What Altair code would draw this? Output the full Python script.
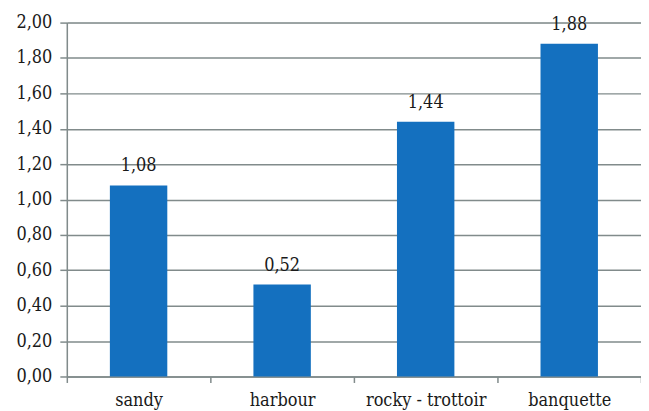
import altair as alt
import pandas as pd

categories = ["sandy", "harbour", "rocky - trottoir", "banquette"]
values = [1.08, 0.52, 1.44, 1.88]
y_ticks = [0.0, 0.2, 0.4, 0.6, 0.8, 1.0, 1.2, 1.4, 1.6, 1.8, 2.0]

df = pd.DataFrame({"cat": categories, "val": values})

FONT = "DejaVu Serif Condensed"
FS = 18
GRID = "#818b8b"
BAR = "#1470bf"
TXT = "#1a1a1a"

yaxis = alt.Axis(
    values=y_ticks,
    labelOverlap=False,
    labelExpr="replace(format(datum.value, '.2f'), '.', ',')",
    labelFont=FONT,
    labelFontSize=FS,
    labelColor=TXT,
    labelPadding=8,
    tickSize=7,
    tickColor=GRID,
    tickWidth=1.5,
    domainColor=GRID,
    domainWidth=1.5,
    gridColor=GRID,
    gridWidth=1.5,
)

base = alt.Chart(df).encode(
    x=alt.X(
        "cat:N",
        sort=categories,
        title=None,
        scale=alt.Scale(paddingInner=0, paddingOuter=0),
        axis=alt.Axis(
            labelAngle=0,
            labelFont=FONT,
            labelFontSize=FS,
            labelColor=TXT,
            labelPadding=9,
            tickBand="extent",
            tickSize=6,
            tickColor=GRID,
            tickWidth=1.5,
            domainColor=GRID,
            domainWidth=1.5,
            grid=False,
        ),
    ),
    y=alt.Y("val:Q", title=None, scale=alt.Scale(domain=[0, 2], nice=False), axis=yaxis),
)

bars = base.mark_bar(color=BAR, width=alt.RelativeBandSize(0.4))

labels = base.transform_calculate(
    lab="replace(format(datum.val, '.2f'), '.', ',')"
).mark_text(
    font=FONT, fontSize=FS, color=TXT, baseline="alphabetic", dy=-14
).encode(text="lab:N")

chart = (
    alt.layer(bars, labels)
    .properties(
        width=576,
        height=355,
        autosize=alt.AutoSizeParams(type="none"),
        padding={"left": 59, "top": 14, "right": 0, "bottom": 40},
    )
    .configure_view(stroke=None)
    .configure(background="white")
)

chart.save("out.html", embed_options={"renderer": "svg", "actions": False})
